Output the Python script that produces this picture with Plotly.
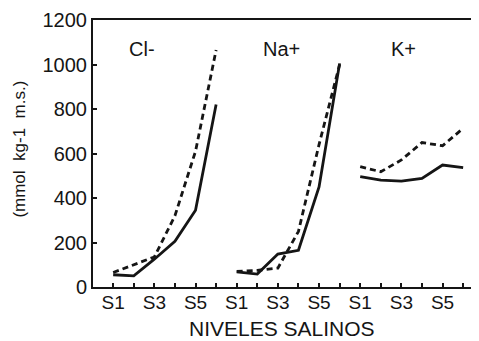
import plotly.graph_objects as go

# ---- data ----
levels = ["S1", "S2", "S3", "S4", "S5", "S6"]
tick_labels = ["S1", "", "S3", "", "S5", ""]
ions = ["Cl-", "Na+", "K+"]

cl_solid = [55, 50, 125, 205, 345, 820]
cl_dashed = [65, 100, 135, 320, 610, 1065]
na_solid = [68, 58, 148, 165, 450, 1005]
na_dashed = [70, 75, 85, 250, 640, 1000]
k_solid = [496, 480, 476, 488, 548, 537]
k_dashed = [541, 518, 571, 649, 635, 713]

y_ticks = [0, 200, 400, 600, 800, 1000, 1200]

solid_series = [cl_solid, na_solid, k_solid]
dashed_series = [cl_dashed, na_dashed, k_dashed]
label_offsets = [1.4, 2.2, 2.1]  # label x within each panel (in level units)

n = len(levels)
FONT = "Liberation Sans"
INK = "#151515"

fig = go.Figure()
for p, ion in enumerate(ions):
    xs = [p * n + j for j in range(n)]
    fig.add_trace(go.Scatter(x=xs, y=solid_series[p], mode="lines",
                             line=dict(color=INK, width=2.8), showlegend=False))
    fig.add_trace(go.Scatter(x=xs, y=dashed_series[p], mode="lines",
                             line=dict(color=INK, width=2.8, dash="6px,4px"),
                             showlegend=False))
    fig.add_annotation(x=p * n + label_offsets[p], y=1070, text=ion,
                       showarrow=False,
                       font=dict(family=FONT, size=20, color=INK))

all_ticks = list(range(n * len(ions)))
all_text = tick_labels * len(ions)

fig.update_xaxes(range=[-0.98, 17.77], tickmode="array", tickvals=all_ticks,
                 ticktext=all_text, ticks="inside", ticklen=4, tickwidth=1.5,
                 tickcolor=INK, showline=True, linecolor=INK, linewidth=2,
                 mirror=True, showgrid=False, zeroline=False,
                 ticklabelstandoff=-3,
                 tickfont=dict(family=FONT, size=19, color=INK))
fig.update_yaxes(range=[0, 1200], tickmode="array", tickvals=y_ticks,
                 ticks="inside", ticklen=4, tickwidth=1.5, tickcolor=INK,
                 showline=True, linecolor=INK, linewidth=2, showgrid=False,
                 zeroline=False, ticklabelstandoff=0,
                 tickfont=dict(family=FONT, size=20, color=INK))

fig.add_annotation(xref="paper", yref="paper", x=0.49, y=-0.154,
                   text="NIVELES SALINOS", showarrow=False, yanchor="middle",
                   font=dict(family=FONT, size=21, color=INK))
fig.add_annotation(xref="paper", yref="paper", x=-0.19, y=0.517,
                   text="(mmol  kg-1  m.s.)", showarrow=False, textangle=-90,
                   xanchor="center", yanchor="middle",
                   font=dict(family=FONT, size=17, color=INK))

# page body has an 8px default margin: compensate so the plot lands where the reference has it
fig.update_layout(width=471, height=333, margin=dict(l=85, r=0, t=12, b=54),
                  paper_bgcolor="white", plot_bgcolor="white")

fig.write_html("out.html")
